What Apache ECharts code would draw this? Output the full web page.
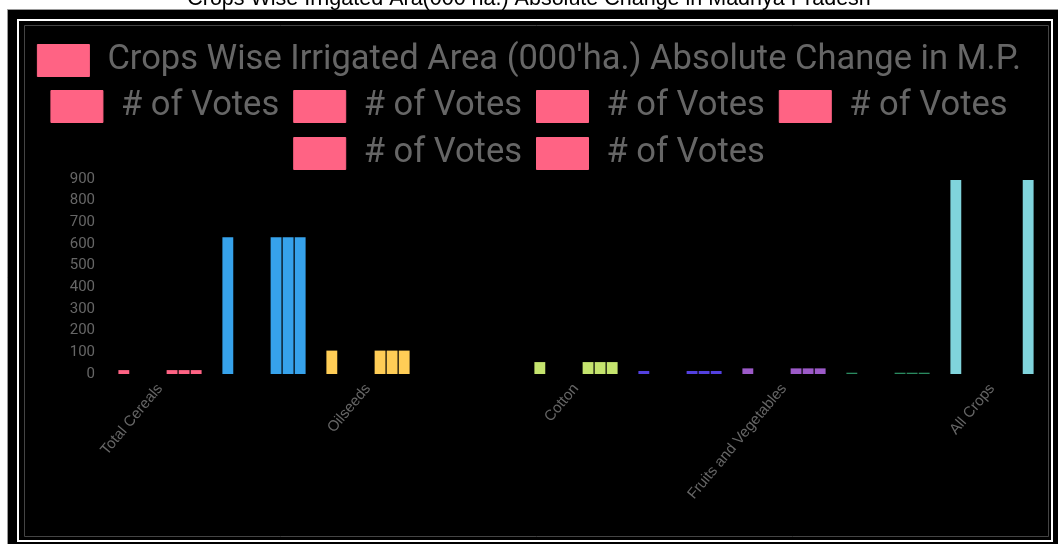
<!DOCTYPE html>
<html>
<head>
<meta charset="utf-8">
<script src="https://cdn.jsdelivr.net/npm/echarts@6/dist/echarts.min.js"></script>
<style>
  html, body { margin: 0; padding: 0; background: #fff; }
  #chart { width: 1058px; height: 544px; }
</style>
</head>
<body>
<div id="chart"></div>
<script>
// categories (only every other label is shown on the axis)
const categories = ['Total Cereals', 'Total Pulses', 'Oilseeds', 'Sugarcane', 'Cotton', 'Condiments and Spices', 'Fruits and Vegetables', 'Other Crops', 'All Crops']
const barColors = ['#ff6384', '#36a2eb', '#ffcd56', '#4bc0c0', '#c5e46e', '#5340e0', '#9c5ac8', '#2a8a60', '#80d4dc']

// series values
const absoluteChange = [18, 631, 108, 0, 55, 14, 26, 6, 895]
const votes1 = []
const votes2 = []
const votes3 = []
const votes4 = [18, 631, 108, 0, 55, 14, 26, 6]
const votes5 = [18, 631, 108, 0, 55, 14, 26, 6]
const votes6 = [18, 631, 108, 0, 55, 14, 26, 6, 895]

const yMin = 0
const yMax = 900
const yStep = 100

const mainName = "Crops Wise Irrigated Area (000'ha.) Absolute Change in M.P."
const seriesList = [
  { name: mainName, data: absoluteChange },
  { name: '# of Votes 1', data: votes1 },
  { name: '# of Votes 2', data: votes2 },
  { name: '# of Votes 3', data: votes3 },
  { name: '# of Votes 4', data: votes4 },
  { name: '# of Votes 5', data: votes5 },
  { name: '# of Votes 6', data: votes6 }
]

const legendBase = {
  left: 'center',
  itemWidth: 52,
  itemHeight: 32,
  itemGap: 14,
  icon: 'rect',
  formatter: name => name.replace(/ \d$/, ''),
  textStyle: {
    color: '#666',
    fontSize: 34.5,
    fontFamily: 'Roboto',
    padding: [0, 0, 0, 13]
  },
  itemStyle: { borderColor: '#ff6384', borderWidth: 1 }
}

const chart = echarts.init(document.getElementById('chart'))
chart.setOption({
  animation: false,
  color: ['#ff6384'],
  title: {
    text: 'Crops Wise Irrigated Ara(000 ha.) Absolute Change in Madhya Pradesh',
    left: 'center',
    top: -17,
    textStyle: { color: '#000', fontSize: 21.5, fontWeight: 'normal', fontFamily: 'Arial' }
  },
  graphic: [
    { type: 'rect', z: -10, shape: { x: 7.5, y: 9.5, width: 1060, height: 545 }, style: { fill: '#000', stroke: '#999', lineWidth: 1 } },
    { type: 'rect', z: -9, shape: { x: 18, y: 20, width: 1034, height: 521 }, style: { fill: 'none', stroke: '#fff', lineWidth: 2 } },
    { type: 'rect', z: -8, shape: { x: 24.5, y: 25.5, width: 1024, height: 511 }, style: { fill: '#000', stroke: '#444', lineWidth: 1 } }
  ],
  legend: [
    Object.assign({}, legendBase, { top: 38, data: [mainName] }),
    Object.assign({}, legendBase, { top: 84, data: ['# of Votes 1', '# of Votes 2', '# of Votes 3', '# of Votes 4'] }),
    Object.assign({}, legendBase, { top: 131, data: ['# of Votes 5', '# of Votes 6'] })
  ],
  grid: {
    left: 108,
    right: 14,
    top: 179,
    bottom: 170,
    containLabel: false
  },
  xAxis: {
    type: 'category',
    data: categories,
    axisLine: { show: false },
    axisTick: { show: false },
    axisLabel: {
      interval: 1,
      rotate: 50,
      margin: 12,
      color: '#666',
      fontSize: 15,
      fontFamily: 'Arial'
    }
  },
  yAxis: {
    type: 'value',
    min: yMin,
    max: yMax,
    interval: yStep,
    splitLine: { show: false },
    axisLine: { show: false },
    axisTick: { show: false },
    axisLabel: {
      color: '#666',
      fontSize: 15,
      fontFamily: 'Roboto',
      margin: 13
    }
  },
  series: seriesList.map(s => ({
    type: 'bar',
    name: s.name,
    barCategoryGap: '20%',
    barGap: '11%',
    data: s.data.map((v, i) => ({ value: v, itemStyle: { color: barColors[i] } }))
  }))
})
</script>
</body>
</html>
